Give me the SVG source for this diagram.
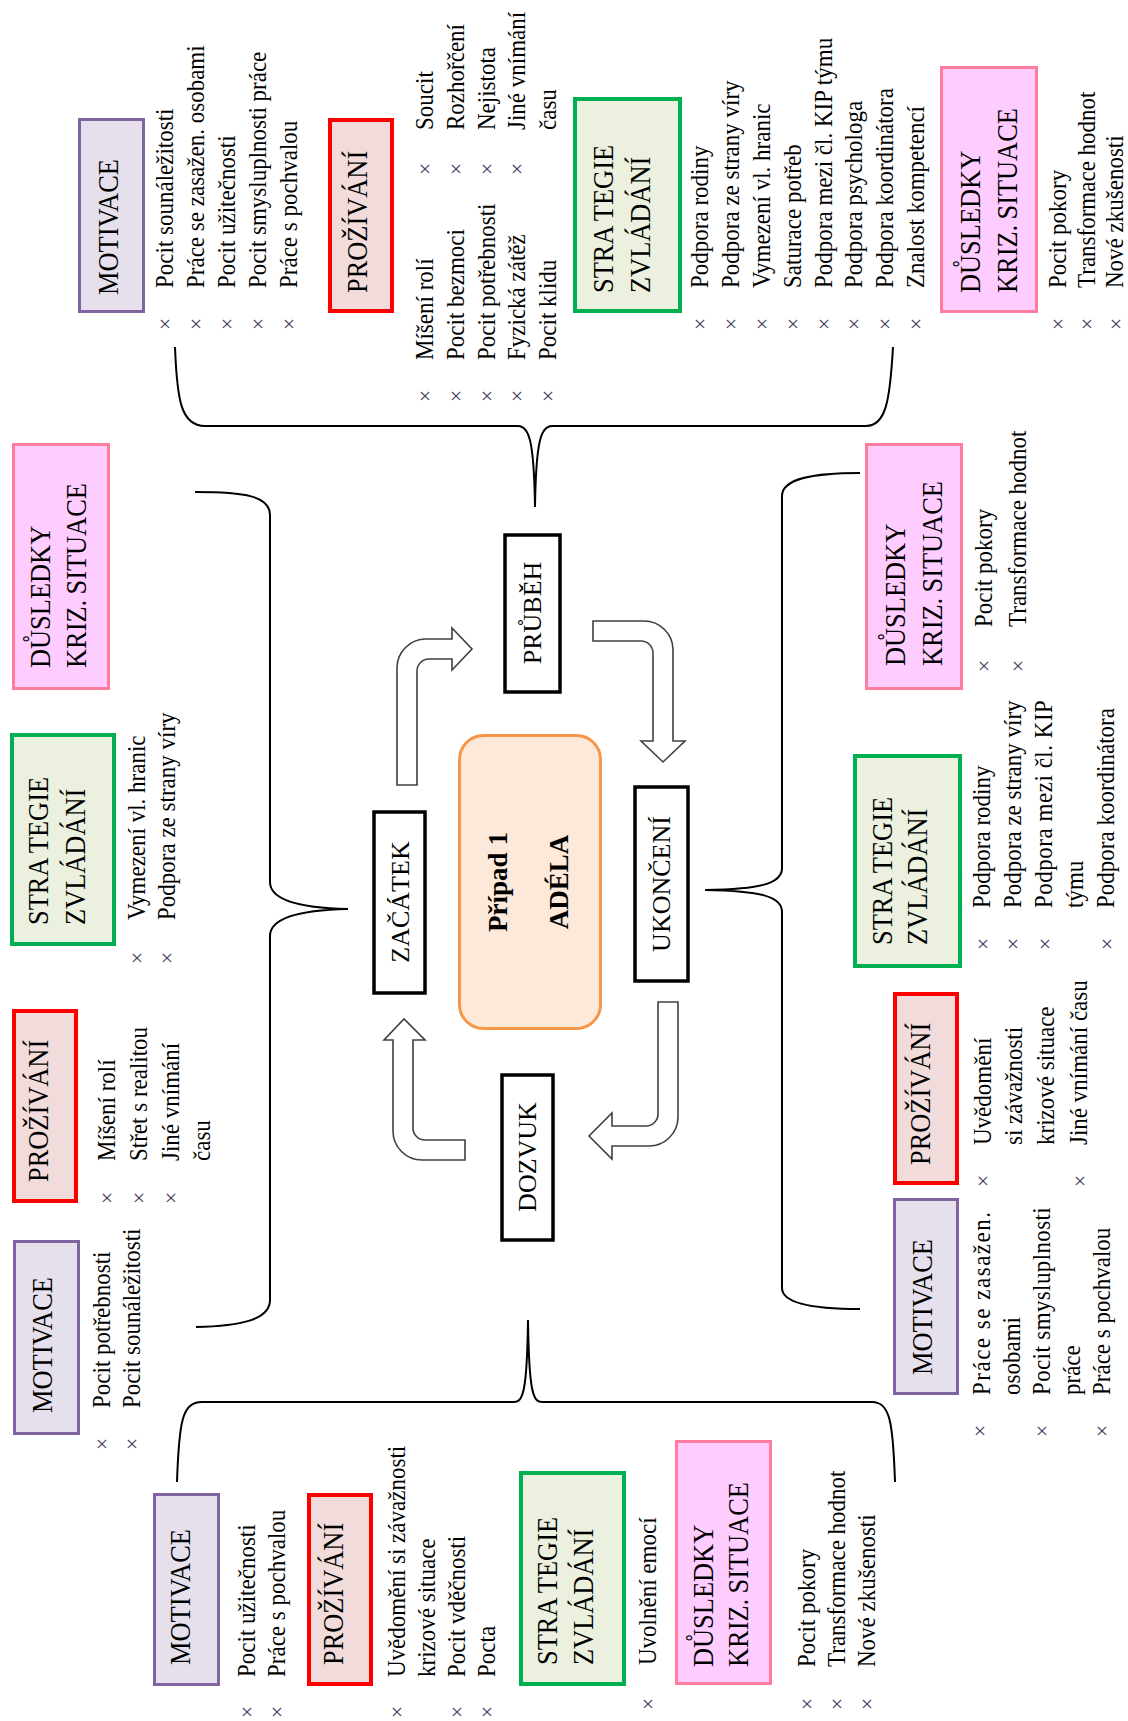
<svg xmlns="http://www.w3.org/2000/svg" width="1128" height="1721" viewBox="0 0 1128 1721">
<style>
text{font-family:"Liberation Serif","Times New Roman",serif;fill:#000}
.it{font-size:25px}
.hd{font-size:30px}
.lb{font-size:26px;text-anchor:middle}
.ce{font-size:27px;font-weight:bold;text-anchor:middle}
.bu{font-size:22px;fill:#4b3b63;text-anchor:middle;dominant-baseline:central}
.mot{fill:#e5e0ec;stroke:#8064a2;stroke-width:3}
.pro{fill:#f2dcdb;stroke:#ff0000;stroke-width:4}
.str{fill:#ebf1de;stroke:#00b050;stroke-width:4}
.dus{fill:#ffccff;stroke:#ff7c9c;stroke-width:3}
.ph{fill:#fff;stroke:#000;stroke-width:3.5}
.arr{fill:#fff;stroke:#404040;stroke-width:1.6}
.br{fill:none;stroke:#000;stroke-width:2}
</style>
<rect width="1128" height="1721" fill="#fff"/>

<g id="connectors">
<path class="br" d="M175,347 C177,400 181,426 205,426 L518,426 C529,426 534,440 535,507 C536,440 541,426 552,426 L866,426 C886,426 890,400 893,347"/>
<path class="br" d="M195,492 C245,492 270,496 270,515 L270,882 C270,900 300,908 348,909 C300,910 270,918 270,936 L270,1300 C270,1320 240,1326 196,1327"/>
<path class="br" d="M860,473 C815,473 782,478 782,496 L782,868 C782,884 760,889 705,890 C760,891 782,896 782,912 L782,1288 C782,1304 815,1309 860,1309"/>
<path class="br" d="M177,1482 C179,1422 182,1402 202,1402 L514,1402 C523,1402 527,1392 528,1320 C529,1392 533,1402 542,1402 L872,1402 C890,1402 893,1422 895,1482"/>
<path class="arr" d="M397,785 L397,668 A29,29 0 0 1 426,639 L452,639 L452,628 L472,649 L452,670 L452,659 L429,659 A12,12 0 0 0 417,671 L417,785 Z"/>
<path class="arr" d="M593,621 L644,621 A29,29 0 0 1 673,650 L673,741 L685,741 L663,762 L641,741 L653,741 L653,653 A12,12 0 0 0 641,641 L593,641 Z"/>
<path class="arr" d="M658,1002 L678,1002 L678,1117 A29,29 0 0 1 649,1146 L612,1146 L612,1159 L589,1136 L612,1113 L612,1126 L646,1126 A12,12 0 0 0 658,1114 Z"/>
<path class="arr" d="M465,1140 L465,1160 L422,1160 A29,29 0 0 1 393,1131 L393,1040 L384,1040 L404,1019 L425,1040 L413,1040 L413,1128 A12,12 0 0 0 425,1140 Z"/>
</g>

<g id="center">
<rect x="459.5" y="735.5" width="141" height="293" rx="24" fill="#fde9d9" stroke="#f79646" stroke-width="3"/>
<text class="ce" transform="translate(507,882) rotate(-90)">Případ 1</text>
<text class="ce" transform="translate(568,882) rotate(-90)">ADÉLA</text>
</g>

<g id="phase-pruběh">
<rect class="ph" x="505" y="535" width="55" height="157"/>
<text class="lb" transform="translate(541,613) rotate(-90)">PRŮBĚH</text>
</g>
<g id="phase-zacatek">
<rect class="ph" x="374" y="812" width="51" height="181"/>
<text class="lb" transform="translate(409,902) rotate(-90)">ZAČÁTEK</text>
</g>
<g id="phase-ukonceni">
<rect class="ph" x="635" y="787" width="53" height="194"/>
<text class="lb" transform="translate(670,884) rotate(-90)">UKONČENÍ</text>
</g>
<g id="phase-dozvuk">
<rect class="ph" x="502" y="1075" width="51" height="165"/>
<text class="lb" transform="translate(536,1157) rotate(-90)">DOZVUK</text>
</g>

<!-- TOP -->
<g id="top-motivace">
<rect class="mot" x="79.5" y="119.5" width="64" height="192"/>
<text class="hd" transform="translate(118,295) rotate(-90) scale(.88,1)">MOTIVACE</text>
<text class="it" transform="translate(173,288) rotate(-90) scale(.92,1)">Pocit sounáležitosti</text>
<text class="it" transform="translate(204,288) rotate(-90) scale(.92,1)">Práce se zasažen. osobami</text>
<text class="it" transform="translate(235,288) rotate(-90) scale(.92,1)">Pocit užitečnosti</text>
<text class="it" transform="translate(266,288) rotate(-90) scale(.92,1)">Pocit smysluplnosti práce</text>
<text class="it" transform="translate(297,288) rotate(-90) scale(.92,1)">Práce s pochvalou</text>
<text class="bu" x="165" y="323">×</text><text class="bu" x="196" y="323">×</text><text class="bu" x="227" y="323">×</text><text class="bu" x="258" y="323">×</text><text class="bu" x="289" y="323">×</text>
</g>
<g id="top-prozivani">
<rect class="pro" x="330" y="120" width="62" height="191"/>
<text class="hd" transform="translate(367,293) rotate(-90) scale(.88,1)">PROŽÍVÁNÍ</text>
<text class="it" transform="translate(433,360) rotate(-90) scale(.92,1)">Míšení rolí</text>
<text class="it" transform="translate(464,360) rotate(-90) scale(.92,1)">Pocit bezmoci</text>
<text class="it" transform="translate(495,360) rotate(-90) scale(.92,1)">Pocit potřebnosti</text>
<text class="it" transform="translate(525,360) rotate(-90) scale(.92,1)">Fyzická zátěž</text>
<text class="it" transform="translate(556,360) rotate(-90) scale(.92,1)">Pocit klidu</text>
<text class="bu" x="425" y="395">×</text><text class="bu" x="456" y="395">×</text><text class="bu" x="487" y="395">×</text><text class="bu" x="517" y="395">×</text><text class="bu" x="548" y="395">×</text>
<text class="it" transform="translate(433,130) rotate(-90) scale(.92,1)">Soucit</text>
<text class="it" transform="translate(464,130) rotate(-90) scale(.92,1)">Rozhořčení</text>
<text class="it" transform="translate(495,130) rotate(-90) scale(.92,1)">Nejistota</text>
<text class="it" transform="translate(525,130) rotate(-90) scale(.92,1)">Jiné vnímání</text>
<text class="it" transform="translate(556,130) rotate(-90) scale(.92,1)">času</text>
<text class="bu" x="425" y="168">×</text><text class="bu" x="456" y="168">×</text><text class="bu" x="487" y="168">×</text><text class="bu" x="517" y="168">×</text>
</g>
<g id="top-strategie">
<rect class="str" x="575" y="99" width="105" height="212"/>
<text class="hd" transform="translate(613,293) rotate(-90) scale(.88,1)">STRA<tspan dx="5">TEGIE</tspan></text>
<text class="hd" transform="translate(650,293) rotate(-90) scale(.88,1)">ZVLÁDÁNÍ</text>
<text class="it" transform="translate(708,288) rotate(-90) scale(.92,1)">Podpora rodiny</text>
<text class="it" transform="translate(739,288) rotate(-90) scale(.92,1)">Podpora ze strany víry</text>
<text class="it" transform="translate(770,288) rotate(-90) scale(.92,1)">Vymezení vl. hranic</text>
<text class="it" transform="translate(801,288) rotate(-90) scale(.92,1)">Saturace potřeb</text>
<text class="it" transform="translate(832,288) rotate(-90) scale(.92,1)">Podpora mezi čl. KIP týmu</text>
<text class="it" transform="translate(862,288) rotate(-90) scale(.92,1)">Podpora psychologa</text>
<text class="it" transform="translate(893,288) rotate(-90) scale(.92,1)">Podpora koordinátora</text>
<text class="it" transform="translate(924,288) rotate(-90) scale(.92,1)">Znalost kompetencí</text>
<text class="bu" x="700" y="323">×</text><text class="bu" x="731" y="323">×</text><text class="bu" x="762" y="323">×</text><text class="bu" x="793" y="323">×</text><text class="bu" x="824" y="323">×</text><text class="bu" x="854" y="323">×</text><text class="bu" x="885" y="323">×</text><text class="bu" x="916" y="323">×</text>
</g>
<g id="top-dusledky">
<rect class="dus" x="941.5" y="67.5" width="95" height="244"/>
<text class="hd" transform="translate(980,293) rotate(-90) scale(.88,1)">DŮSLEDKY</text>
<text class="hd" transform="translate(1017,293) rotate(-90) scale(.88,1)">KRIZ.<tspan dx="6">SITUACE</tspan></text>
<text class="it" transform="translate(1066,288) rotate(-90) scale(.92,1)">Pocit pokory</text>
<text class="it" transform="translate(1095,288) rotate(-90) scale(.92,1)">Transformace hodnot</text>
<text class="it" transform="translate(1123,288) rotate(-90) scale(.92,1)">Nové zkušenosti</text>
<text class="bu" x="1058" y="323">×</text><text class="bu" x="1087" y="323">×</text><text class="bu" x="1116" y="323">×</text>
</g>

<!-- LEFT -->
<g id="left-dusledky">
<rect class="dus" x="13.5" y="444.5" width="95" height="244"/>
<text class="hd" transform="translate(50,668) rotate(-90) scale(.88,1)">DŮSLEDKY</text>
<text class="hd" transform="translate(86,668) rotate(-90) scale(.88,1)">KRIZ.<tspan dx="6">SITUACE</tspan></text>
</g>
<g id="left-strategie">
<rect class="str" x="12" y="735" width="102" height="209"/>
<text class="hd" transform="translate(48,925) rotate(-90) scale(.88,1)">STRA<tspan dx="5">TEGIE</tspan></text>
<text class="hd" transform="translate(85,925) rotate(-90) scale(.88,1)">ZVLÁDÁNÍ</text>
<text class="it" transform="translate(145,920) rotate(-90) scale(.92,1)">Vymezení vl. hranic</text>
<text class="it" transform="translate(175,920) rotate(-90) scale(.92,1)">Podpora ze strany víry</text>
<text class="bu" x="137" y="957">×</text><text class="bu" x="167" y="957">×</text>
</g>
<g id="left-prozivani">
<rect class="pro" x="14" y="1011" width="62" height="190"/>
<text class="hd" transform="translate(48,1182) rotate(-90) scale(.88,1)">PROŽÍVÁNÍ</text>
<text class="it" transform="translate(115,1161) rotate(-90) scale(.92,1)">Míšení rolí</text>
<text class="it" transform="translate(147,1161) rotate(-90) scale(.92,1)">Střet s realitou</text>
<text class="it" transform="translate(179,1161) rotate(-90) scale(.92,1)">Jiné vnímání</text>
<text class="it" transform="translate(210,1161) rotate(-90) scale(.92,1)">času</text>
<text class="bu" x="107" y="1197">×</text><text class="bu" x="139" y="1197">×</text><text class="bu" x="171" y="1197">×</text>
</g>
<g id="left-motivace">
<rect class="mot" x="14.5" y="1241.5" width="64" height="192"/>
<text class="hd" transform="translate(52,1413) rotate(-90) scale(.88,1)">MOTIVACE</text>
<text class="it" transform="translate(110,1408) rotate(-90) scale(.92,1)">Pocit potřebnosti</text>
<text class="it" transform="translate(140,1408) rotate(-90) scale(.92,1)">Pocit sounáležitosti</text>
<text class="bu" x="102" y="1443">×</text><text class="bu" x="132" y="1443">×</text>
</g>

<!-- BOTTOM -->
<g id="bottom-motivace">
<rect class="mot" x="154.5" y="1494.5" width="64" height="190"/>
<text class="hd" transform="translate(190,1665) rotate(-90) scale(.88,1)">MOTIVACE</text>
<text class="it" transform="translate(255,1677) rotate(-90) scale(.92,1)">Pocit užitečnosti</text>
<text class="it" transform="translate(285,1677) rotate(-90) scale(.92,1)">Práce s pochvalou</text>
<text class="bu" x="247" y="1711">×</text><text class="bu" x="277" y="1711">×</text>
</g>
<g id="bottom-prozivani">
<rect class="pro" x="309" y="1495" width="62" height="189"/>
<text class="hd" transform="translate(343,1665) rotate(-90) scale(.88,1)">PROŽÍVÁNÍ</text>
<text class="it" transform="translate(405,1677) rotate(-90) scale(.92,1)">Uvědomění si závažnosti</text>
<text class="it" transform="translate(435,1677) rotate(-90) scale(.92,1)">krizové situace</text>
<text class="it" transform="translate(465,1677) rotate(-90) scale(.92,1)">Pocit vděčnosti</text>
<text class="it" transform="translate(495,1677) rotate(-90) scale(.92,1)">Pocta</text>
<text class="bu" x="397" y="1711">×</text><text class="bu" x="457" y="1711">×</text><text class="bu" x="487" y="1711">×</text>
</g>
<g id="bottom-strategie">
<rect class="str" x="521" y="1473" width="103" height="211"/>
<text class="hd" transform="translate(557,1665) rotate(-90) scale(.88,1)">STRA<tspan dx="5">TEGIE</tspan></text>
<text class="hd" transform="translate(593,1665) rotate(-90) scale(.88,1)">ZVLÁDÁNÍ</text>
<text class="it" transform="translate(656,1665) rotate(-90) scale(.92,1)">Uvolnění emocí</text>
<text class="bu" x="648" y="1703">×</text>
</g>
<g id="bottom-dusledky">
<rect class="dus" x="676.5" y="1441.5" width="94" height="242"/>
<text class="hd" transform="translate(713,1667) rotate(-90) scale(.88,1)">DŮSLEDKY</text>
<text class="hd" transform="translate(748,1667) rotate(-90) scale(.88,1)">KRIZ.<tspan dx="6">SITUACE</tspan></text>
<text class="it" transform="translate(815,1667) rotate(-90) scale(.92,1)">Pocit pokory</text>
<text class="it" transform="translate(845,1667) rotate(-90) scale(.92,1)">Transformace hodnot</text>
<text class="it" transform="translate(875,1667) rotate(-90) scale(.92,1)">Nové zkušenosti</text>
<text class="bu" x="807" y="1703">×</text><text class="bu" x="837" y="1703">×</text><text class="bu" x="867" y="1703">×</text>
</g>

<!-- RIGHT -->
<g id="right-dusledky">
<rect class="dus" x="866.5" y="444.5" width="95" height="244"/>
<text class="hd" transform="translate(905,666) rotate(-90) scale(.88,1)">DŮSLEDKY</text>
<text class="hd" transform="translate(942,666) rotate(-90) scale(.88,1)">KRIZ.<tspan dx="6">SITUACE</tspan></text>
<text class="it" transform="translate(992,627) rotate(-90) scale(.92,1)">Pocit pokory</text>
<text class="it" transform="translate(1026,627) rotate(-90) scale(.92,1)">Transformace hodnot</text>
<text class="bu" x="984" y="665">×</text><text class="bu" x="1018" y="665">×</text>
</g>
<g id="right-strategie">
<rect class="str" x="855" y="756" width="105" height="210"/>
<text class="hd" transform="translate(892,945) rotate(-90) scale(.88,1)">STRA<tspan dx="5">TEGIE</tspan></text>
<text class="hd" transform="translate(927,945) rotate(-90) scale(.88,1)">ZVLÁDÁNÍ</text>
<text class="it" transform="translate(990,908) rotate(-90) scale(.92,1)">Podpora rodiny</text>
<text class="it" transform="translate(1021,908) rotate(-90) scale(.92,1)">Podpora ze strany víry</text>
<text class="it" transform="translate(1052,908) rotate(-90) scale(.92,1)" textLength="226" lengthAdjust="spacing">Podpora mezi čl. KIP</text>
<text class="it" transform="translate(1083,908) rotate(-90) scale(.92,1)">týmu</text>
<text class="it" transform="translate(1114,908) rotate(-90) scale(.92,1)">Podpora koordinátora</text>
<text class="bu" x="983" y="943">×</text><text class="bu" x="1013" y="943">×</text><text class="bu" x="1045" y="943">×</text><text class="bu" x="1107" y="943">×</text>
</g>
<g id="right-prozivani">
<rect class="pro" x="895" y="994" width="62" height="189"/>
<text class="hd" transform="translate(930,1165) rotate(-90) scale(.88,1)">PROŽÍVÁNÍ</text>
<text class="it" transform="translate(991,1145) rotate(-90) scale(.92,1)">Uvědomění</text>
<text class="it" transform="translate(1022,1145) rotate(-90) scale(.92,1)">si závažnosti</text>
<text class="it" transform="translate(1054,1145) rotate(-90) scale(.92,1)">krizové situace</text>
<text class="it" transform="translate(1087,1145) rotate(-90) scale(.92,1)">Jiné vnímání času</text>
<text class="bu" x="983" y="1180">×</text><text class="bu" x="1080" y="1180">×</text>
</g>
<g id="right-motivace">
<rect class="mot" x="894.5" y="1199.5" width="63" height="194"/>
<text class="hd" transform="translate(932,1375) rotate(-90) scale(.88,1)">MOTIVACE</text>
<text class="it" transform="translate(990,1395) rotate(-90) scale(.92,1)" textLength="199" lengthAdjust="spacing">Práce se zasažen.</text>
<text class="it" transform="translate(1020,1395) rotate(-90) scale(.92,1)">osobami</text>
<text class="it" transform="translate(1050,1395) rotate(-90) scale(.92,1)" textLength="204" lengthAdjust="spacing">Pocit smysluplnosti</text>
<text class="it" transform="translate(1080,1395) rotate(-90) scale(.92,1)">práce</text>
<text class="it" transform="translate(1110,1395) rotate(-90) scale(.92,1)">Práce s pochvalou</text>
<text class="bu" x="980" y="1430">×</text><text class="bu" x="1042" y="1430">×</text><text class="bu" x="1102" y="1430">×</text>
</g>
</svg>
